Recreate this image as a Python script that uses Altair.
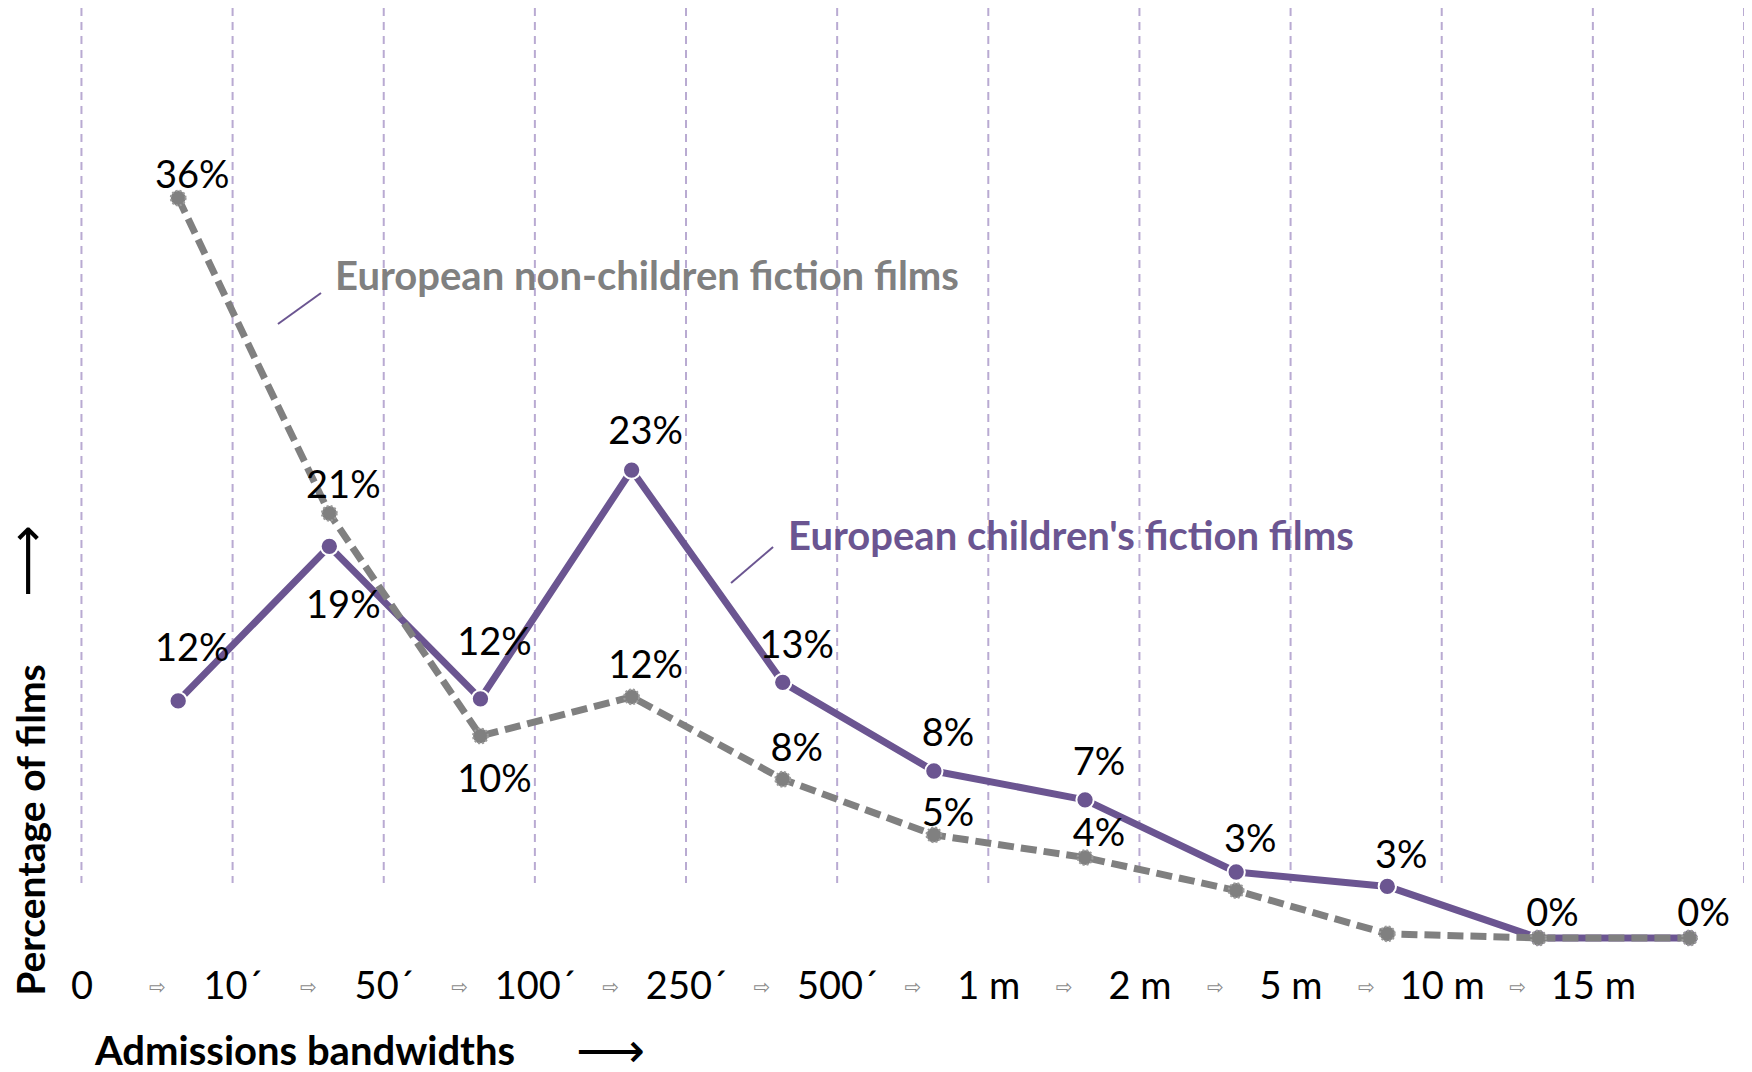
import altair as alt
import pandas as pd

# ---------------- data ----------------
categories = ["0", "10´", "50´", "100´", "250´", "500´", "1 m", "2 m", "5 m", "10 m", "15 m"]
children = [11.6, 19.1, 11.7, 22.8, 12.5, 8.2, 6.8, 3.3, 2.6, 0.1, 0.1]
non_children = [36.0, 20.7, 9.9, 11.8, 7.8, 5.1, 4.0, 2.4, 0.3, 0.1, 0.1]
children_labels = ["12%", "19%", "12%", "23%", "13%", "8%", "7%", "3%", "3%", "0%", "0%"]
non_children_labels = ["36%", "21%", "10%", "12%", "8%", "5%", "4%", "", "", "", ""]
series_names = ["European children's fiction films", "European non-children fiction films"]

# ---------------- layout / style ----------------
PURPLE = "#6b5591"
GREY = "#808080"
GRID = "#b9aad2"
FONT = "Lato"
POINT_SHIFT = 0.64          # points sit inside each bandwidth interval
ARROW_SHIFT = 0.5
# pixel offsets of the value labels from their points (negative = above)
children_label_off = [-51, 61, -55, -37, -35, -36, -36, -31, -29, -23, -23]
non_children_label_off = [-21, -26, 45, -30, -29, -20, -23, 0, 0, 0, 0]

W, H = 1736, 932
Y_MAX = 45.22
PX_PER_UNIT = H / Y_MAX
xscale = alt.Scale(domain=[-0.486, 11.0], nice=False, zero=False)
yscale = alt.Scale(domain=[0, Y_MAX], nice=False, zero=False)

n = len(categories)
pts = pd.DataFrame({
    "x": [i + POINT_SHIFT for i in range(n)] * 2,
    "value": children + non_children,
    "label": children_labels + non_children_labels,
    "off": children_label_off + non_children_label_off,
    "series": [series_names[0]] * n + [series_names[1]] * n,
})
kids = pts[pts.series == series_names[0]]
adults = pts[pts.series == series_names[1]]

label_expr = "[" + ",".join("'" + c + "'" for c in categories) + "][datum.value]"
xaxis = alt.Axis(values=list(range(n)), labelExpr=label_expr, title=None, ticks=False,
                 tickSize=0, domain=False, grid=False, labelPadding=47, labelBaseline="middle",
                 labelFont=FONT, labelFontSize=38, labelColor="black", labelFlush=False,
                 labelOverlap=False, labelAngle=0)

X = lambda: alt.X("x:Q", scale=xscale, axis=xaxis)
Y = lambda f="value": alt.Y(f + ":Q", scale=yscale, axis=None)

grid_df = pd.DataFrame({"x": list(range(n + 1))})
grid = alt.Chart(grid_df).mark_rule(color=GRID, strokeWidth=2, strokeDash=[8, 6]).encode(
    x=X(), y=alt.value(0), y2=alt.value(875))

arrow_df = pd.DataFrame({"x": [i + ARROW_SHIFT for i in range(n - 1)], "t": ["⇨"] * (n - 1)})
arrows = alt.Chart(arrow_df).mark_text(font="DejaVu Sans", fontSize=20, color="#8a8a8a",
                                       baseline="middle").encode(
    x=X(), y=alt.value(980), text="t:N")

kid_line = alt.Chart(kids).mark_line(color=PURPLE, strokeWidth=7, strokeJoin="round").encode(x=X(), y=Y())
kid_pts = alt.Chart(kids).mark_circle(color=PURPLE, size=300, opacity=1, stroke="white",
                                      strokeWidth=2).encode(x=X(), y=Y())
ad_line = alt.Chart(adults).mark_line(color=GREY, strokeWidth=7, strokeDash=[16, 7],
                                      strokeCap="butt").encode(x=X(), y=Y())
ad_pts = alt.Chart(adults).mark_circle(color=GREY, size=220, opacity=1, stroke="#9a9a9a",
                                       strokeWidth=2, strokeDash=[2, 2]).encode(x=X(), y=Y())

labels = alt.Chart(pts).transform_calculate(
    ly=f"datum.value - datum.off / {PX_PER_UNIT}"
).mark_text(font=FONT, fontSize=38, color="black", baseline="middle",
            align="center", dx=14).encode(x=X(), y=Y("ly"), text="label:N")

# annotations (series names with leader lines)
ann_df = pd.DataFrame({
    "x": [1.678, 4.675], "value": [32.12, 19.5], "t": [series_names[1], series_names[0]],
    "c": [GREY, PURPLE],
    "x0": [1.300, 4.298], "y0": [29.89, 17.32], "x1": [1.585, 4.576], "y1": [31.39, 19.07],
})
ann_text = alt.Chart(ann_df).mark_text(font=FONT, fontSize=40, fontWeight="bold", align="left",
                                       baseline="middle").encode(
    x=X(), y=Y(), text="t:N", color=alt.Color("c:N", scale=None))
ann_lines = alt.Chart(ann_df).mark_rule(color=PURPLE, strokeWidth=2).encode(
    x=alt.X("x0:Q", scale=xscale, axis=xaxis), x2="x1:Q",
    y=alt.Y("y0:Q", scale=yscale, axis=None), y2="y1:Q")

# axis titles with arrows
ytitle = alt.Chart(pd.DataFrame({"t": ["Percentage of films"]})).mark_text(
    font=FONT, fontSize=39, fontWeight="bold", angle=270, baseline="middle", align="center",
    color="black").encode(x=alt.value(25), y=alt.value(822), text="t:N")
yarrow = alt.Chart(pd.DataFrame({"t": ["⟶"]})).mark_text(
    font="DejaVu Sans", fontSize=50, angle=270, baseline="middle", align="center",
    color="black").encode(x=alt.value(21), y=alt.value(553), text="t:N")
xtitle = alt.Chart(pd.DataFrame({"t": ["Admissions bandwidths"]})).mark_text(
    font=FONT, fontSize=40, fontWeight="bold", align="left", baseline="middle",
    color="black").encode(x=alt.value(87), y=alt.value(1045), text="t:N")
xarrow = alt.Chart(pd.DataFrame({"t": ["⟶"]})).mark_text(
    font="DejaVu Sans", fontSize=48, align="left", baseline="middle",
    color="black").encode(x=alt.value(568), y=alt.value(1045), text="t:N")

chart = alt.layer(
    grid, arrows, kid_line, kid_pts, ad_line, ad_pts, labels, ann_lines, ann_text,
    ytitle, yarrow, xtitle, xarrow
).properties(
    width=W, height=H, autosize="none",
    padding={"left": 0, "top": 0, "right": 0, "bottom": 140},
    background="white",
).configure_view(stroke=None)

chart.save("out.html", embed_options={"renderer": "svg", "actions": False})
